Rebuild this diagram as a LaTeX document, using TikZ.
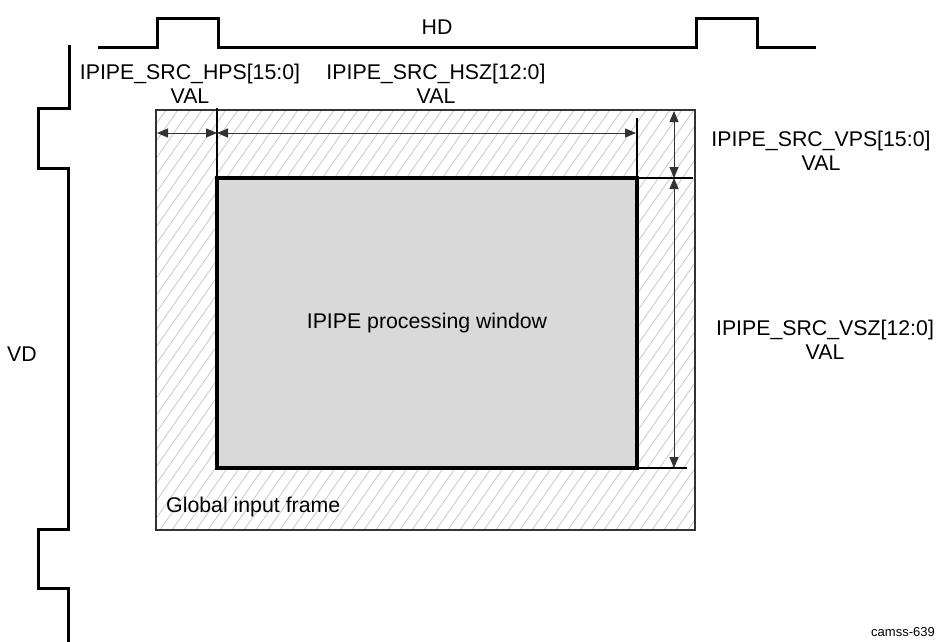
\documentclass[tikz,border=0pt]{standalone}
\usepackage{fontspec}
\setmainfont{Liberation Sans}
\usetikzlibrary{arrows.meta}
\definecolor{winfill}{HTML}{D9D9D9}
\definecolor{hatch}{HTML}{C8C8C8}
\definecolor{dimc}{HTML}{333333}
\begin{document}
\begin{tikzpicture}[x=1pt,y=-1pt,
  wave/.style={line width=3pt, line join=miter},
  lbl/.style={font=\fontsize{21.3}{24.5}\selectfont, inner sep=0pt, align=center},
  dimarrow/.style={draw=dimc, line width=1pt, {Triangle[length=11pt,width=9pt]}-{Triangle[length=11pt,width=9pt]}},
  guide/.style={line width=2pt, draw=black}]
\useasboundingbox (0,0) rectangle (940,642);

% waveforms
\draw[wave] (98,48) -- (157,48) -- (157,19) -- (218,19) -- (218,48) -- (696,48) -- (696,19) -- (757,19) -- (757,48) -- (816,48);
\draw[wave] (69,45) -- (69,108) -- (38,108) -- (38,168) -- (68,168) -- (68,529) -- (38,529) -- (38,588) -- (68,588) -- (68,642);

% global frame with hatching
\begin{scope}
  \clip (156,110) rectangle (695,530);
  \foreach \i in {-320,-308,...,700}
    \draw[hatch, line width=0.8pt] (\i,530) -- (\i+294,110);
\end{scope}
\node[draw=dimc, line width=1.2pt, minimum width=539pt, minimum height=420pt, inner sep=0pt, outer sep=0pt] (frame) at (425.5,320) {};

% processing window
\node[draw=black, fill=winfill, line width=3.5pt, minimum width=420pt, minimum height=290pt, inner sep=0pt, outer sep=0pt,
      font=\fontsize{21.3}{24.5}\selectfont] (win) at (427,323) {IPIPE processing window};

% guide lines
\coordinate (gtop) at (217,108);
\coordinate (rtop) at (637,118);
\coordinate (rext1) at (693,178);
\coordinate (rext2) at (687,468);
\draw[guide] (gtop) -- (gtop |- win.north);
\draw[guide] (rtop) -- (rtop |- win.north);
\draw[guide] (win.north east) -- (rext1);
\draw[guide] (win.south east) -- (rext2);

% dimension arrows
\coordinate (h0) at (157,133);
\coordinate (h1) at (217,133);
\coordinate (h2) at (636,133);
\coordinate (v0) at (674,111);
\coordinate (v1) at (674,178);
\coordinate (v2) at (674,468);
\draw[dimarrow] (h0) -- (h1);
\draw[dimarrow] (h1) -- (h2);
\draw[dimarrow] (v0) -- (v1);
\draw[dimarrow] (v1) -- (v2);

% labels
\node[lbl] (hd) at (437,27) {HD};
\node[lbl] (vd) at (22,354) {VD};
\node[lbl] (hps) at (190,84) {IPIPE\_SRC\_HPS[15:0]\\VAL};
\node[lbl] (hsz) at (436,84) {IPIPE\_SRC\_HSZ[12:0]\\VAL};
\node[lbl] (vps) at (821,151) {IPIPE\_SRC\_VPS[15:0]\\VAL};
\node[lbl] (vsz) at (825,340) {IPIPE\_SRC\_VSZ[12:0]\\VAL};
\node[lbl, anchor=west] (gif) at (166,507) {Global input frame};
\node[font=\fontsize{13}{15}\selectfont, inner sep=0pt, anchor=east] (cam) at (935,632) {camss-639};
\end{tikzpicture}
\end{document}
